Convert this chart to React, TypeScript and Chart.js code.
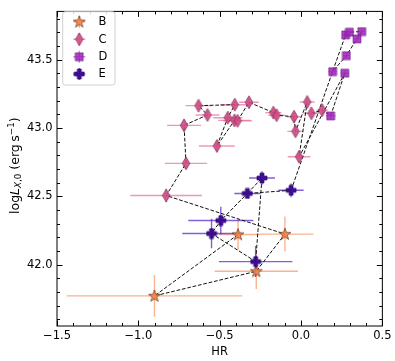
import React, { useEffect, useRef } from "react";
import { Chart, registerables } from "chart.js";
Chart.register(...registerables);

const FONT = "'DejaVu Sans', sans-serif";
const FS = 11.5;
const TFS = 12.5;

// ---- data ----
const seriesLabels = ["B", "C", "D", "E"];
const seriesColors = ["rgba(244,132,70,0.9)", "rgba(208,78,134,0.9)", "rgba(160,40,188,0.88)", "rgba(58,6,145,0.95)"];
const seriesEdges = ["rgba(90,40,20,0.9)", "rgba(120,30,70,0.9)", "rgba(100,20,120,0.8)", "rgba(40,5,100,0.9)"];
const errorColors = ["rgba(244,140,80,0.65)", "rgba(226,110,155,0.7)", "rgba(160,60,200,0.6)", "rgba(90,40,200,0.75)"];

const B_hr = [-0.387, -0.901, -0.275, -0.099];
const B_logL = [42.221, 41.772, 41.952, 42.224];
const B_xerr = [0.118, 0.54, 0.256, 0.175];
const B_yerr = [0.113, 0.153, 0.13, 0.128];

const C_hr = [-0.829, -0.707, -0.719, -0.575, -0.63, -0.407, -0.45, -0.517, -0.409, -0.39, -0.32, -0.17, -0.15, -0.043, -0.034, 0.038, -0.012, 0.064, 0.13];
const C_logL = [42.506, 42.741, 43.019, 43.095, 43.163, 43.17, 43.075, 42.868, 43.055, 43.052, 43.188, 43.112, 43.093, 43.082, 42.975, 43.19, 42.789, 43.107, 43.13];
const C_xerr = [0.22, 0.13, 0.104, 0.073, 0.08, 0.09, 0.09, 0.11, 0.1, 0.09, 0.06, 0.05, 0.05, 0.045, 0.05, 0.046, 0.07, 0.05, 0.035];
const C_yerr = [0.05, 0.04, 0.04, 0.03, 0.03, 0.03, 0.03, 0.04, 0.03, 0.03, 0.03, 0.03, 0.03, 0.03, 0.03, 0.03, 0.04, 0.03, 0.03];

const D_hr = [0.182, 0.269, 0.194, 0.274, 0.298, 0.373, 0.344, 0.279];
const D_logL = [43.088, 43.4, 43.412, 43.68, 43.7, 43.705, 43.651, 43.529];
const D_xerr = [0.03, 0.025, 0.025, 0.02, 0.02, 0.02, 0.02, 0.02];
const D_yerr = [0.02, 0.02, 0.02, 0.02, 0.02, 0.02, 0.02, 0.02];

const E_hr = [-0.55, -0.493, -0.33, -0.24, -0.061, -0.279];
const E_logL = [42.228, 42.323, 42.521, 42.634, 42.544, 42.023];
const E_xerr = [0.18, 0.2, 0.08, 0.08, 0.077, 0.226];
const E_yerr = [0.108, 0.1, 0.03, 0.05, 0.05, 0.113];

// dashed connecting paths (series letter + index)
const path1 = ["B0", "B1", "B2", "B3", "C0", "C1", "C2", "C3", "C4", "C5", "C6", "C7", "C8", "C9", "C10", "C11", "C12", "C13", "C14", "C15", "C16", "D1", "D0", "C18", "C17"];
const path2 = ["E4", "D2", "D3", "D4", "D5", "D6", "D7", "D2"];
const path3 = ["E4", "E2", "E3", "E5", "E0", "E1", "E2"];

const xTickValues = [-1.5, -1.0, -0.5, 0.0, 0.5];
const yTickValues = [42.0, 42.5, 43.0, 43.5];
const xMin = -1.5, xMax = 0.5;
const yMin = 41.552, yMax = 43.852;
const minorStep = 0.1;

const yTitleParts = [
  { t: "log", style: "normal", size: TFS, shift: 0 },
  { t: "L", style: "italic", size: TFS, shift: 0 },
  { t: "X", style: "italic", size: TFS * 0.7, shift: 2.8 },
  { t: ",0", style: "normal", size: TFS * 0.7, shift: 2.8 },
  { t: " (erg\u2009s", style: "normal", size: TFS, shift: 0 },
  { t: "\u22121", style: "normal", size: TFS * 0.7, shift: -5 },
  { t: ")", style: "normal", size: TFS, shift: 0 },
];

const seriesData: Record<string, { hr: number[]; L: number[]; xe: number[]; ye: number[] }> = {
  B: { hr: B_hr, L: B_logL, xe: B_xerr, ye: B_yerr },
  C: { hr: C_hr, L: C_logL, xe: C_xerr, ye: C_yerr },
  D: { hr: D_hr, L: D_logL, xe: D_xerr, ye: D_yerr },
  E: { hr: E_hr, L: E_logL, xe: E_xerr, ye: E_yerr },
};

function pathPoints(path: string[]) {
  return path.map((id) => {
    const s = seriesData[id[0]];
    const i = parseInt(id.slice(1), 10);
    return { x: s.hr[i], y: s.L[i] };
  });
}

function fmt(v: number) {
  const s = Math.abs(v).toFixed(1);
  return v < -1e-9 ? "\u2212" + s : s;
}

// ---- marker images ----
function mk(w: number, h: number, draw: (c: CanvasRenderingContext2D) => void) {
  const c = document.createElement("canvas");
  c.width = w;
  c.height = h;
  const ctx = c.getContext("2d")!;
  draw(ctx);
  return c;
}
function starMarker(fill: string, edge: string) {
  return mk(14, 14, (c) => {
    const R = 6.3, r = 2.5, cx = 7, cy = 7.3;
    c.beginPath();
    for (let k = 0; k < 10; k++) {
      const a = -Math.PI / 2 + (k * Math.PI) / 5;
      const rr = k % 2 === 0 ? R : r;
      const px = cx + rr * Math.cos(a), py = cy + rr * Math.sin(a);
      k === 0 ? c.moveTo(px, py) : c.lineTo(px, py);
    }
    c.closePath();
    c.fillStyle = fill;
    c.fill();
    c.lineWidth = 0.7;
    c.strokeStyle = edge;
    c.stroke();
  });
}
function diamondMarker(fill: string, edge: string) {
  return mk(10, 15, (c) => {
    c.beginPath();
    c.moveTo(5, 1);
    c.lineTo(8.8, 7.5);
    c.lineTo(5, 14);
    c.lineTo(1.2, 7.5);
    c.closePath();
    c.fillStyle = fill;
    c.fill();
    c.lineWidth = 0.7;
    c.strokeStyle = edge;
    c.stroke();
  });
}
function squareMarker(fill: string, edge: string) {
  return mk(10, 10, (c) => {
    c.beginPath();
    c.rect(1, 1, 8, 8);
    c.fillStyle = fill;
    c.fill();
    c.lineWidth = 0.7;
    c.strokeStyle = edge;
    c.stroke();
  });
}
function plusMarker(fill: string, edge: string) {
  return mk(12, 12, (c) => {
    const a = 1, b = 4, d = 8, e = 11;
    c.beginPath();
    c.moveTo(b, a); c.lineTo(d, a); c.lineTo(d, b); c.lineTo(e, b); c.lineTo(e, d); c.lineTo(d, d);
    c.lineTo(d, e); c.lineTo(b, e); c.lineTo(b, d); c.lineTo(a, d); c.lineTo(a, b); c.lineTo(b, b);
    c.closePath();
    c.fillStyle = fill;
    c.fill();
    c.lineWidth = 0.7;
    c.strokeStyle = edge;
    c.stroke();
  });
}

export default function App() {
  const ref = useRef<HTMLCanvasElement>(null);
  useEffect(() => {
    if (!ref.current) return;
    const markers = [
      starMarker(seriesColors[0], seriesEdges[0]),
      diamondMarker(seriesColors[1], seriesEdges[1]),
      squareMarker(seriesColors[2], seriesEdges[2]),
      plusMarker(seriesColors[3], seriesEdges[3]),
    ];

    const errorBars = {
      id: "errorBars",
      beforeDatasetsDraw(chart: any) {
        const { ctx, chartArea, scales } = chart;
        ctx.save();
        ctx.beginPath();
        ctx.rect(chartArea.left, chartArea.top, chartArea.right - chartArea.left, chartArea.bottom - chartArea.top);
        ctx.clip();
        ctx.lineWidth = 1.4;
        seriesLabels.forEach((lab, si) => {
          const s = seriesData[lab];
          ctx.strokeStyle = errorColors[si];
          s.hr.forEach((hr, i) => {
            const L = s.L[i];
            const y = scales.y.getPixelForValue(L);
            const x = scales.x.getPixelForValue(hr);
            ctx.beginPath();
            ctx.moveTo(scales.x.getPixelForValue(hr - s.xe[i]), y);
            ctx.lineTo(scales.x.getPixelForValue(hr + s.xe[i]), y);
            ctx.moveTo(x, scales.y.getPixelForValue(L - s.ye[i]));
            ctx.lineTo(x, scales.y.getPixelForValue(L + s.ye[i]));
            ctx.stroke();
          });
        });
        ctx.restore();
      },
    };

    const frame = {
      id: "frame",
      afterDraw(chart: any) {
        const { ctx, chartArea: a, scales } = chart;
        ctx.save();
        ctx.strokeStyle = "#000";
        ctx.lineWidth = 1;
        ctx.strokeRect(a.left, a.top, a.right - a.left, a.bottom - a.top);
        const isMajor = (v: number, arr: number[]) => arr.some((t) => Math.abs(t - v) < 1e-6);
        ctx.beginPath();
        for (let v = xMin; v <= xMax + 1e-9; v += minorStep) {
          const vv = Math.round(v * 10) / 10;
          const len = isMajor(vv, xTickValues) ? 5.5 : 3;
          const x = Math.round(scales.x.getPixelForValue(vv)) + 0.5;
          ctx.moveTo(x, a.bottom); ctx.lineTo(x, a.bottom - len);
          ctx.moveTo(x, a.top); ctx.lineTo(x, a.top + len);
        }
        for (let v = 41.6; v <= yMax + 1e-9; v += minorStep) {
          const vv = Math.round(v * 10) / 10;
          const len = isMajor(vv, yTickValues) ? 5.5 : 3;
          const y = Math.round(scales.y.getPixelForValue(vv)) + 0.5;
          ctx.moveTo(a.left, y); ctx.lineTo(a.left + len, y);
          ctx.moveTo(a.right, y); ctx.lineTo(a.right - len, y);
        }
        ctx.stroke();

        // legend
        const lx = 62.7, ly = 11.7, lw = 52.3, lh = 73.3;
        ctx.fillStyle = "rgba(255,255,255,0.85)";
        ctx.strokeStyle = "rgba(204,204,204,0.9)";
        ctx.lineWidth = 1;
        ctx.beginPath();
        ctx.roundRect(lx, ly, lw, lh, 2.5);
        ctx.fill();
        ctx.stroke();
        const rows = [21.7, 39.3, 56.7, 74];
        const mx = 79.3;
        seriesLabels.forEach((lab, si) => {
          const y = rows[si];
          ctx.strokeStyle = errorColors[si];
          ctx.lineWidth = 1.4;
          ctx.beginPath();
          ctx.moveTo(mx - 6, y); ctx.lineTo(mx + 6, y);
          ctx.moveTo(mx, y - 6); ctx.lineTo(mx, y + 6);
          ctx.stroke();
          const m = markers[si];
          ctx.drawImage(m, mx - m.width / 2, y - m.height / 2);
          ctx.fillStyle = "#000";
          ctx.font = `${FS}px ${FONT}`;
          ctx.textAlign = "left";
          ctx.textBaseline = "middle";
          ctx.fillText(lab, 98.5, y + 0.5);
        });

        // y title
        ctx.translate(18.5, (a.top + a.bottom) / 2 - 3);
        ctx.rotate(-Math.PI / 2);
        ctx.textBaseline = "alphabetic";
        ctx.textAlign = "left";
        let total = 0;
        yTitleParts.forEach((p) => {
          ctx.font = `${p.style} ${p.size}px ${FONT}`;
          total += ctx.measureText(p.t).width;
        });
        let cx = -total / 2;
        ctx.fillStyle = "#000";
        yTitleParts.forEach((p) => {
          ctx.font = `${p.style} ${p.size}px ${FONT}`;
          ctx.fillText(p.t, cx, p.shift);
          cx += ctx.measureText(p.t).width;
        });
        ctx.restore();
      },
    };

    const lineDs = (pts: { x: number; y: number }[]) => ({
      type: "scatter" as const,
      data: pts,
      showLine: true,
      borderColor: "#111",
      borderWidth: 1,
      borderDash: [3.7, 1.8],
      pointRadius: 0,
      pointHoverRadius: 0,
      fill: false,
      order: 5,
    });

    const markerDs = (si: number) => {
      const s = seriesData[seriesLabels[si]];
      return {
        type: "scatter" as const,
        label: seriesLabels[si],
        data: s.hr.map((x, i) => ({ x, y: s.L[i] })),
        pointStyle: markers[si],
        pointRadius: 6,
        order: 1,
      };
    };

    const tickFont = { family: FONT, size: FS };
    const chart = new Chart(ref.current, {
      type: "scatter",
      data: {
        datasets: [
          markerDs(3), markerDs(2), markerDs(1), markerDs(0),
          lineDs(pathPoints(path1)), lineDs(pathPoints(path2)), lineDs(pathPoints(path3)),
        ] as any,
      },
      options: {
        responsive: true,
        maintainAspectRatio: false,
        animation: false,
        events: [],
        layout: { padding: { top: 5, right: 11, left: 0, bottom: 0 } },
        plugins: { legend: { display: false }, tooltip: { enabled: false } },
        scales: {
          x: {
            type: "linear",
            min: xMin,
            max: xMax,
            afterFit: (s: any) => { s.height = 35; },
            afterBuildTicks: (s: any) => { s.ticks = xTickValues.map((v) => ({ value: v })); },
            grid: { display: false, drawTicks: false },
            border: { display: false },
            ticks: { padding: 3.5, color: "#000", font: tickFont, maxRotation: 0, autoSkip: false, callback: (v: any) => fmt(Number(v)) },
            title: { display: true, text: "HR", color: "#000", font: { family: FONT, size: FS, lineHeight: 1.2 }, padding: { top: 0, bottom: 2.5 } },
          },
          y: {
            type: "linear",
            min: yMin,
            max: yMax,
            afterFit: (s: any) => { s.width = 57; },
            afterBuildTicks: (s: any) => { s.ticks = yTickValues.map((v) => ({ value: v })); },
            grid: { display: false, drawTicks: false },
            border: { display: false },
            ticks: { padding: 4.5, color: "#000", font: tickFont, autoSkip: false, callback: (v: any) => fmt(Number(v)) },
          },
        },
      } as any,
      plugins: [errorBars, frame],
    });
    return () => chart.destroy();
  }, []);

  return (
    <div style={{ position: "fixed", left: 0, top: 0, width: 395, height: 361, background: "#fff" }}>
      <canvas ref={ref} />
    </div>
  );
}
